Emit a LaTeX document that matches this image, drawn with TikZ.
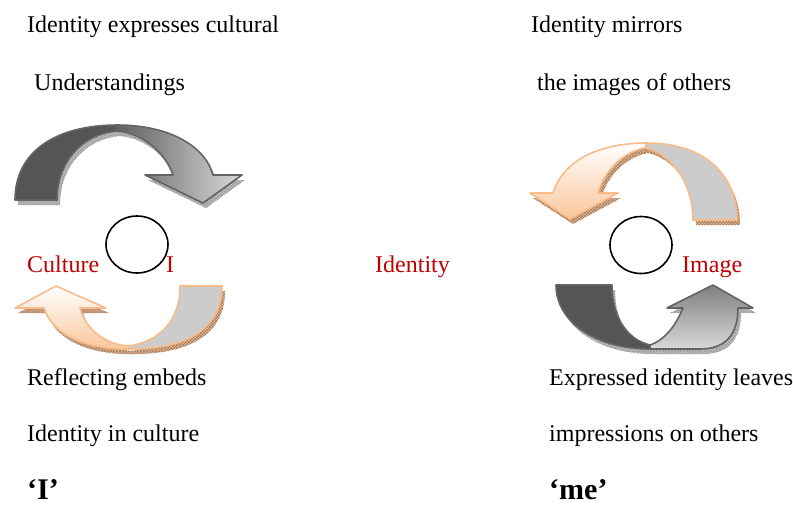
\documentclass[tikz,border=0pt]{standalone}
\usepackage{fontspec}
\setmainfont{Liberation Serif}
\usetikzlibrary{shapes.geometric,patterns}
\definecolor{redtxt}{RGB}{192,0,0}
\definecolor{peach}{RGB}{247,188,138}
\definecolor{peachfill}{RGB}{250,198,155}
\definecolor{darkband}{RGB}{85,85,85}
\definecolor{greyline}{RGB}{100,100,100}
\definecolor{lightband}{RGB}{204,204,204}
\definecolor{grayshadow}{RGB}{200,200,200}
\definecolor{grayhatch}{RGB}{150,150,150}
\definecolor{brownshadow}{RGB}{222,190,160}
\definecolor{brownhatch}{RGB}{170,120,85}
% top-left arrow
\newcommand{\TLback}{(15,200) .. controls (15,152) and (55,125) .. (118,125) -- (117,131) .. controls (82,134) and (57,162) .. (57,200) -- cycle}
\newcommand{\TLfront}{(117,125) .. controls (172,125) and (206,148) .. (213,175) -- (242,175) -- (203,203) -- (145,175) -- (173,175) .. controls (165,152) and (142,133) .. (117,131) -- cycle}
% bottom-left arrow
\newcommand{\BLback}{(180,286) -- (222,286) .. controls (222,327) and (190,349) .. (130,349) -- (128,346) .. controls (160,342) and (180,320) .. (180,286) -- cycle}
\newcommand{\BLfront}{(44,308) -- (15,308) -- (56,286) -- (106,308) -- (80,308) .. controls (86,330) and (105,344) .. (128,346) -- (130,349) .. controls (85,350) and (52,334) .. (44,308) -- cycle}
% top-right arrow
\newcommand{\TRback}{(693,220) -- (737,220) .. controls (737,175) and (705,143) .. (647,143) -- (645,148) .. controls (673,154) and (693,185) .. (693,220) -- cycle}
\newcommand{\TRfront}{(647,143) .. controls (595,143) and (562,163) .. (553,193) -- (530,193) -- (570,219) -- (618,193) -- (598,193) .. controls (605,170) and (623,152) .. (645,148) -- cycle}
% bottom-right arrow
\newcommand{\BRback}{(556,285) -- (612,285) .. controls (612,318) and (628,340) .. (650,345) -- (650,349) .. controls (596,349) and (556,322) .. (556,285) -- cycle}
\newcommand{\BRfront}{(650,345) .. controls (665,340) and (676,325) .. (683,308) -- (667,308) -- (713,285) -- (753,308) -- (738,308) .. controls (738,335) and (725,349) .. (700,349) -- (650,349) -- cycle}
\begin{document}
\begin{tikzpicture}[x=1pt,y=-1pt,
  txt/.style={font=\fontsize{24}{28}\selectfont, anchor=base west, inner sep=0pt},
  redlabel/.style={txt, text=redtxt},
  bigq/.style={font=\fontsize{30}{34}\selectfont\bfseries, anchor=base west, inner sep=0pt},
  ring/.style={draw=black, line width=1.6pt, ellipse, minimum width=62pt, minimum height=57pt, inner sep=0pt},
  grayedge/.style={draw=greyline, line width=1.6pt, line join=round},
  peachedge/.style={draw=peach, line width=1.6pt, line join=round},
  gshadow/.style={fill=grayshadow, shift={(3,5)}},
  gshadowhatch/.style={pattern=crosshatch, pattern color=grayhatch, shift={(3,5)}},
  bshadow/.style={fill=brownshadow, shift={(3,5)}},
  bshadowhatch/.style={pattern=crosshatch, pattern color=brownhatch, shift={(3,5)}}
]
\useasboundingbox (0,0) rectangle (793,504);
% shadows / extrusions
\fill[gshadow] \TLback;
\fill[gshadow] \TLfront;
\fill[gshadowhatch] \TLback;
\fill[gshadowhatch] \TLfront;
\fill[bshadow] \BLback;
\fill[bshadow] \BLfront;
\fill[bshadowhatch] \BLback;
\fill[bshadowhatch] \BLfront;
\fill[bshadow] \TRback;
\fill[bshadow] \TRfront;
\fill[bshadowhatch] \TRback;
\fill[bshadowhatch] \TRfront;
\fill[gshadow] \BRback;
\fill[gshadow] \BRfront;
\fill[gshadowhatch] \BRback;
\fill[gshadowhatch] \BRfront;
% top-left arrow
\path[grayedge, fill=darkband] \TLback;
\path[grayedge, shading angle=60, left color=black!62, right color=black!15, shade] \TLfront;
% bottom-left arrow
\path[peachedge, fill=lightband] \BLback;
\path[peachedge, top color=white, bottom color=peachfill, shade] \BLfront;
% top-right arrow
\path[peachedge, fill=lightband] \TRback;
\path[peachedge, top color=white, bottom color=peachfill, shade] \TRfront;
% bottom-right arrow
\path[grayedge, fill=darkband] \BRback;
\path[grayedge, top color=black!50, bottom color=black!15, shade] \BRfront;
% circles
\node[ring] (c1) at (137,244.5) {};
\node[ring] (c2) at (641,245) {};
% texts
\node[txt] (t1) at (27,32) {Identity expresses cultural};
\node[txt] (t2) at (34,90) {Understandings};
\node[txt] (t3) at (531,32) {Identity mirrors};
\node[txt] (t4) at (537,90) {the images of others};
\node[redlabel] (culture) at (27,272) {Culture};
\node[redlabel] (iletter) at (166,272) {I};
\node[redlabel] (identity) at (375,272) {Identity};
\node[redlabel] (image) at (682,272) {Image};
\node[txt] (b1) at (27,385) {Reflecting embeds};
\node[txt] (b2) at (27,441) {Identity in culture};
\node[txt] (b3) at (549,385) {Expressed identity leaves};
\node[txt] (b4) at (549,441) {impressions on others};
\node[bigq] (qi) at (27,499) {‘I’};
\node[bigq] (qme) at (549,499) {‘me’};
\end{tikzpicture}
\end{document}
